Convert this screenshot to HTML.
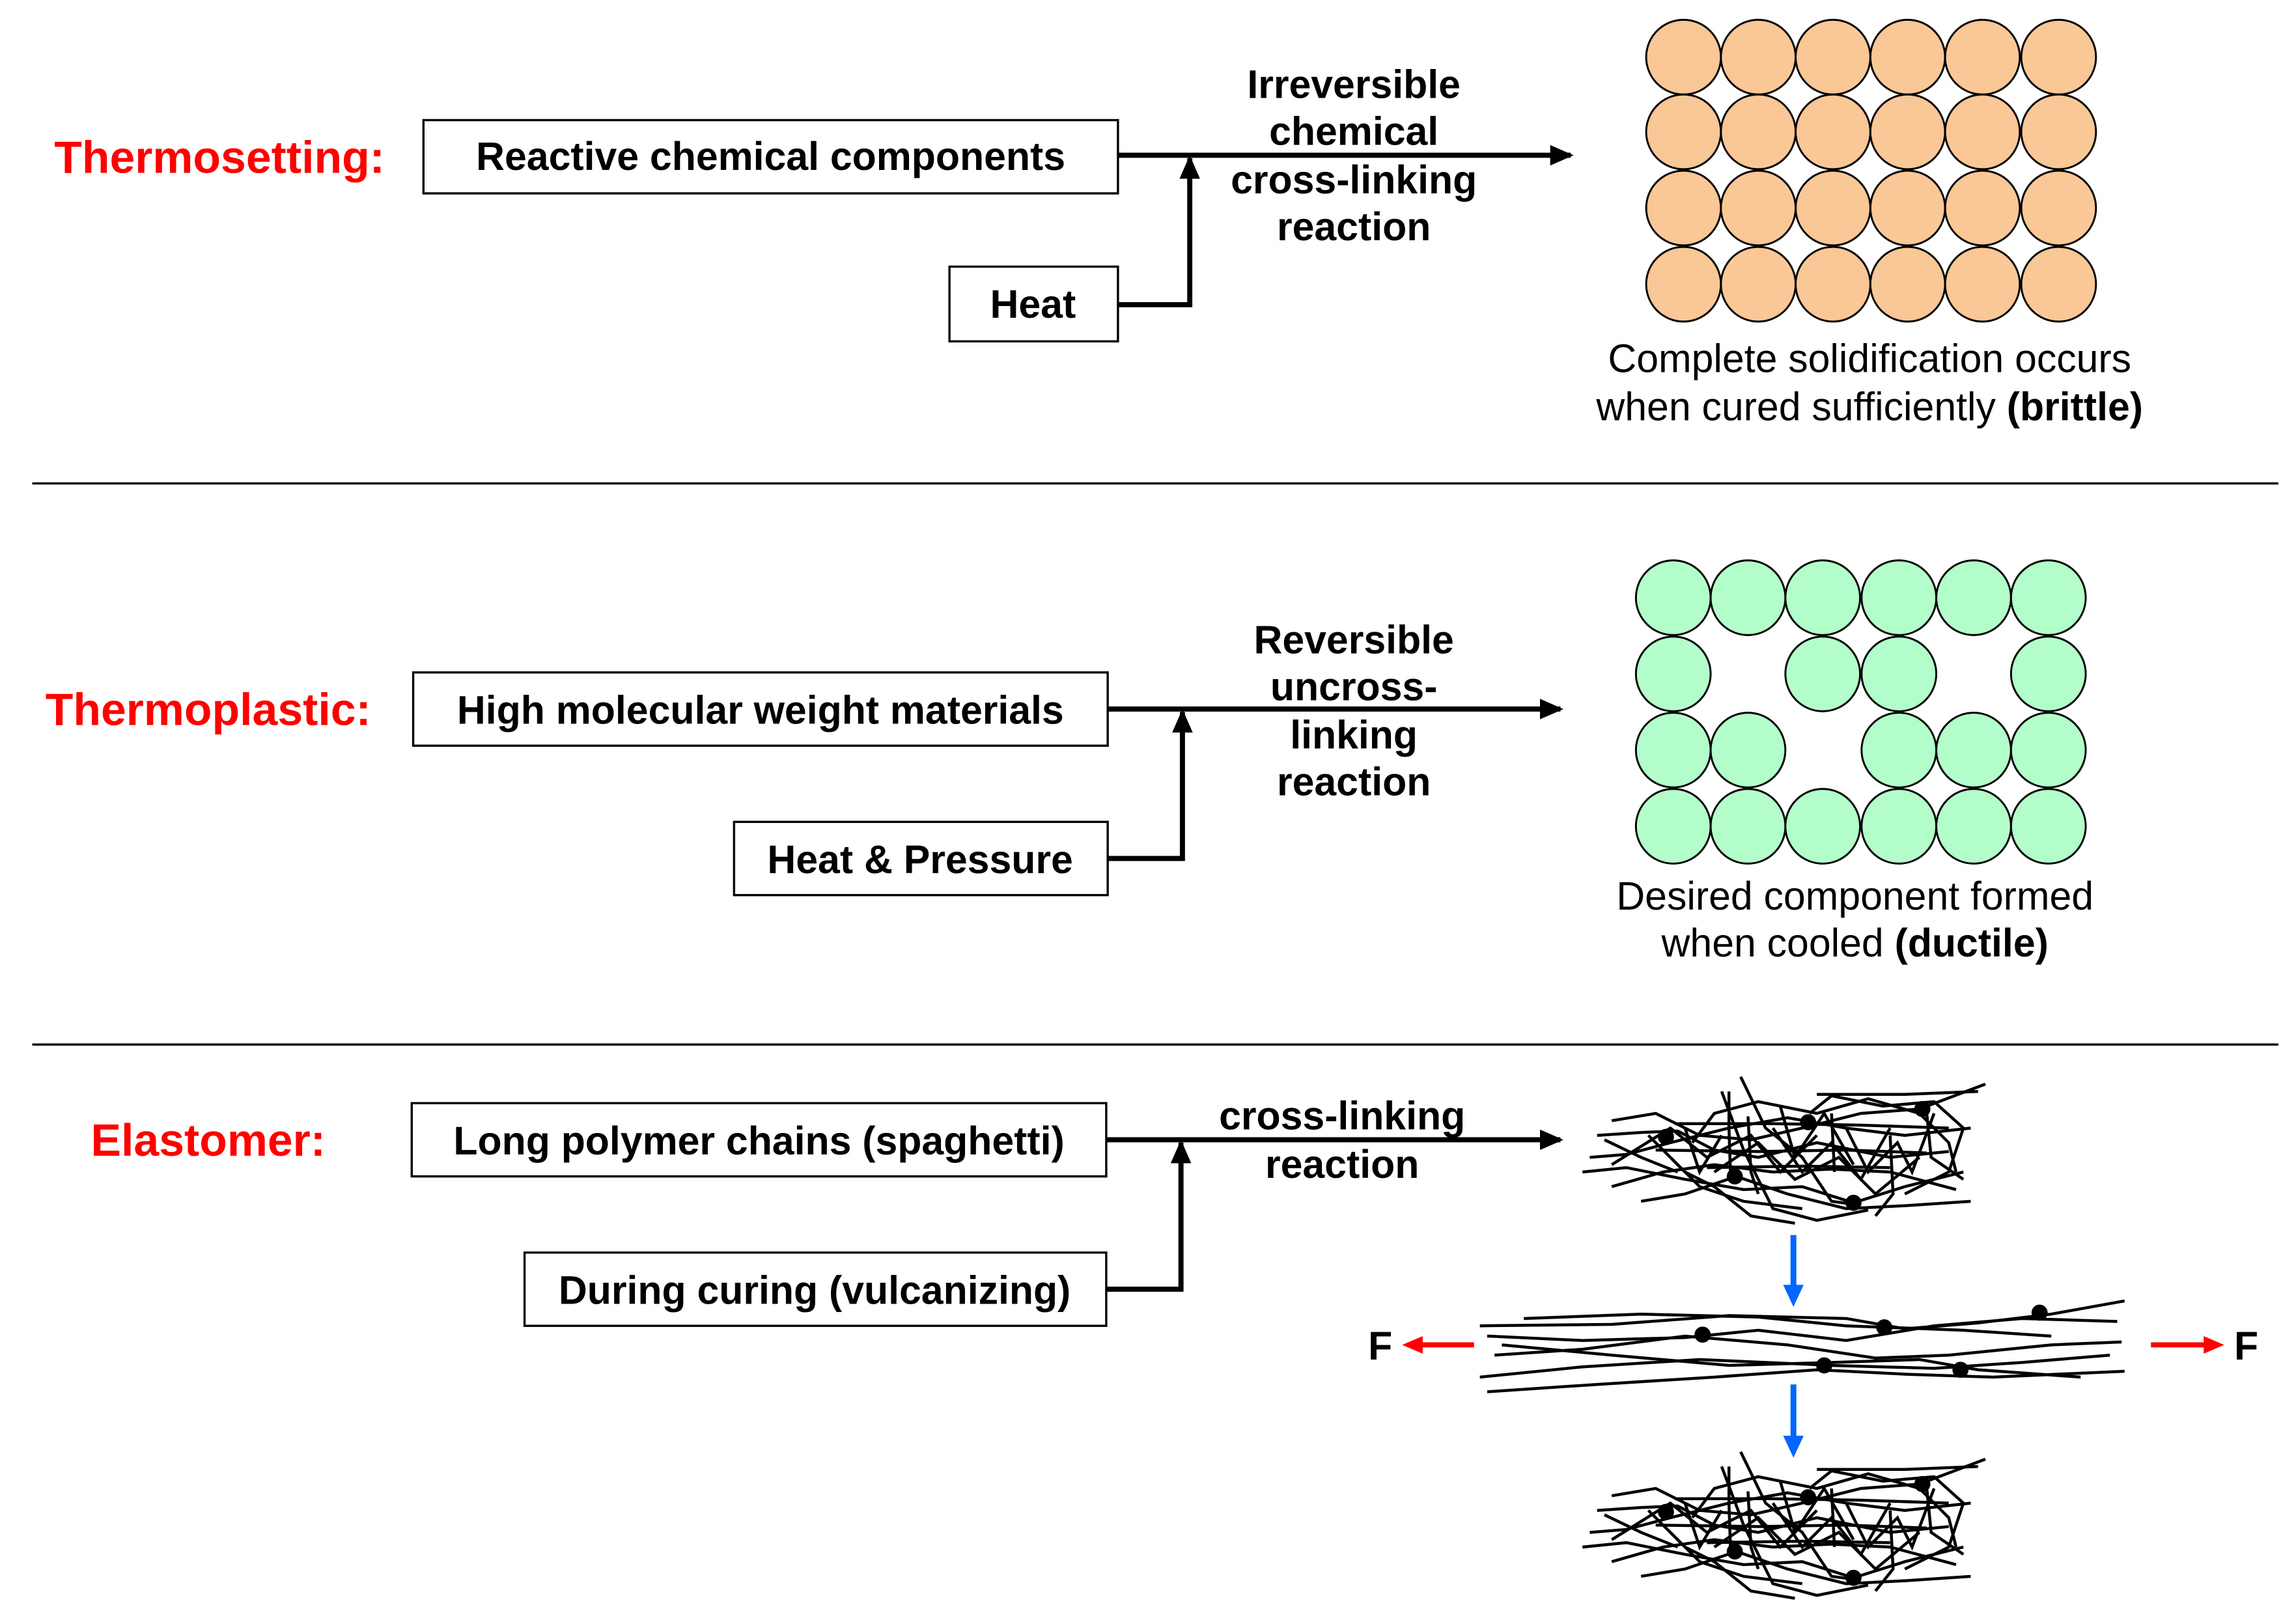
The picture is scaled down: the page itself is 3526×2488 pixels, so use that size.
<!DOCTYPE html>
<html><head><meta charset="utf-8"><style>
html,body{margin:0;padding:0;background:#fff;}
svg{display:block}
text{font-family:"Liberation Sans",Arial,sans-serif;}
.b{font-weight:bold;font-size:27px;fill:#000}
.r{font-weight:bold;font-size:31px;fill:#ff0000}
.n{font-size:27px;fill:#000}
</style></head><body>
<svg width="3526" height="2488" viewBox="0 0 1567 1105.8" preserveAspectRatio="none" xmlns="http://www.w3.org/2000/svg">
<defs>
<marker id="ah" markerWidth="16" markerHeight="14" refX="14" refY="7" orient="auto" markerUnits="userSpaceOnUse" viewBox="0 0 16 14"><path d="M0,0 L16,7 L0,14 z" fill="#000"/></marker>
<g id="blob" fill="none" stroke="#000" stroke-width="2">
<polyline points="1090,775 1120,773 1145,772 1170,785 1200,790 1240,780 1290,790 1330,786"/>
<polyline points="1085,790 1110,788 1140,780 1180,770 1220,763 1260,770 1300,775 1345,770"/>
<polyline points="1100,765 1130,760 1160,775 1195,778 1230,770 1270,760 1310,757 1355,740"/>
<polyline points="1080,800 1110,797 1150,805 1190,812 1230,810 1265,821 1300,810 1340,800"/>
<polyline points="1100,810 1135,800 1170,795 1210,800 1250,798 1290,800 1335,812"/>
<polyline points="1120,820 1150,815 1185,803 1220,815 1260,825 1300,823 1345,820"/>
<polyline points="1175,745 1190,785 1210,825 1240,833 1275,826"/>
<polyline points="1188,735 1205,770 1230,790 1250,820 1265,822"/>
<polyline points="1180,745 1180,770 1181,800"/>
<polyline points="1155,780 1170,760 1200,752 1240,760 1275,750 1310,760 1330,780 1335,800"/>
<polyline points="1235,760 1250,748 1285,755 1320,752 1340,770 1330,800 1300,815"/>
<polyline points="1140,790 1160,810 1190,820 1230,825"/>
<polyline points="1260,770 1275,800 1295,780 1305,800 1320,760"/>
<polyline points="1210,770 1230,800 1250,780 1270,805 1290,770"/>
<polyline points="1100,795 1140,770 1165,790 1195,775 1215,800 1240,775"/>
<polyline points="1170,800 1200,780 1225,805 1255,790 1280,815 1310,790"/>
<polyline points="1215,755 1225,790 1245,760 1265,795"/>
<polyline points="1150,770 1160,800 1175,775"/>
<polyline points="1143,767 1210,767 1270,768 1330,770"/>
<polyline points="1130,785 1200,786 1260,785 1315,787"/>
<polyline points="1165,797 1230,796 1290,797"/>
<polyline points="1240,747 1300,747 1350,745"/>
<polyline points="1193,762 1195,800 1200,815"/>
<polyline points="1250,760 1252,800"/>
<polyline points="1290,775 1292,815 1280,830"/>
<polyline points="1315,760 1318,790 1340,805"/>
<polyline points="1125,775 1150,800 1170,810 1195,830 1225,835"/>
<polyline points="1095,778 1120,790 1145,800"/>
</g>
<g id="dots" fill="#000">
<circle cx="1137" cy="776" r="5.5"/><circle cx="1234" cy="766" r="5.5"/><circle cx="1312" cy="757" r="5.5"/><circle cx="1184" cy="803" r="5.5"/><circle cx="1265" cy="821" r="5.5"/>
</g>
</defs>

<text class="r" x="37" y="118">Thermosetting:</text>
<rect x="289" y="82" width="474" height="50" fill="#fff" stroke="#000" stroke-width="1.5"/>
<text class="b" x="526" y="116" text-anchor="middle">Reactive chemical components</text>
<rect x="648" y="182" width="115" height="51" fill="#fff" stroke="#000" stroke-width="1.5"/>
<text class="b" x="705" y="217" text-anchor="middle">Heat</text>
<line x1="763" y1="106" x2="1072" y2="106" stroke="#000" stroke-width="3.5" marker-end="url(#ah)"/>
<polyline points="763,208 812,208 812,108" fill="none" stroke="#000" stroke-width="3.5" marker-end="url(#ah)"/>
<text class="b" x="924" y="67" text-anchor="middle">Irreversible</text>
<text class="b" x="924" y="99" text-anchor="middle">chemical</text>
<text class="b" x="924" y="132" text-anchor="middle">cross-linking</text>
<text class="b" x="924" y="164" text-anchor="middle">reaction</text>
<g fill="#fac796" stroke="#000" stroke-width="1.3">
<circle cx="1149" cy="39" r="25.5"/><circle cx="1200" cy="39" r="25.5"/><circle cx="1251" cy="39" r="25.5"/><circle cx="1302" cy="39" r="25.5"/><circle cx="1353" cy="39" r="25.5"/><circle cx="1405" cy="39" r="25.5"/>
<circle cx="1149" cy="90" r="25.5"/><circle cx="1200" cy="90" r="25.5"/><circle cx="1251" cy="90" r="25.5"/><circle cx="1302" cy="90" r="25.5"/><circle cx="1353" cy="90" r="25.5"/><circle cx="1405" cy="90" r="25.5"/>
<circle cx="1149" cy="142" r="25.5"/><circle cx="1200" cy="142" r="25.5"/><circle cx="1251" cy="142" r="25.5"/><circle cx="1302" cy="142" r="25.5"/><circle cx="1353" cy="142" r="25.5"/><circle cx="1405" cy="142" r="25.5"/>
<circle cx="1149" cy="194" r="25.5"/><circle cx="1200" cy="194" r="25.5"/><circle cx="1251" cy="194" r="25.5"/><circle cx="1302" cy="194" r="25.5"/><circle cx="1353" cy="194" r="25.5"/><circle cx="1405" cy="194" r="25.5"/>
</g>
<text class="n" x="1276" y="254" text-anchor="middle">Complete solidification occurs</text>
<text class="n" x="1276" y="287" text-anchor="middle">when cured sufficiently <tspan font-weight="bold">(brittle)</tspan></text>

<line x1="22" y1="330" x2="1555" y2="330" stroke="#000" stroke-width="1.5"/>

<text class="r" x="31" y="495">Thermoplastic:</text>
<rect x="282" y="459" width="474" height="50" fill="#fff" stroke="#000" stroke-width="1.5"/>
<text class="b" x="519" y="494" text-anchor="middle">High molecular weight materials</text>
<rect x="501" y="561" width="255" height="50" fill="#fff" stroke="#000" stroke-width="1.5"/>
<text class="b" x="628" y="596" text-anchor="middle">Heat &amp; Pressure</text>
<line x1="756" y1="484" x2="1065" y2="484" stroke="#000" stroke-width="3.5" marker-end="url(#ah)"/>
<polyline points="756,586 807,586 807,486" fill="none" stroke="#000" stroke-width="3.5" marker-end="url(#ah)"/>
<text class="b" x="924" y="446" text-anchor="middle">Reversible</text>
<text class="b" x="924" y="478" text-anchor="middle">uncross-</text>
<text class="b" x="924" y="511" text-anchor="middle">linking</text>
<text class="b" x="924" y="543" text-anchor="middle">reaction</text>
<g fill="#b3fdca" stroke="#000" stroke-width="1.3">
<circle cx="1142" cy="408" r="25.5"/><circle cx="1193" cy="408" r="25.5"/><circle cx="1244" cy="408" r="25.5"/><circle cx="1296" cy="408" r="25.5"/><circle cx="1347" cy="408" r="25.5"/><circle cx="1398" cy="408" r="25.5"/>
<circle cx="1142" cy="460" r="25.5"/><circle cx="1244" cy="460" r="25.5"/><circle cx="1296" cy="460" r="25.5"/><circle cx="1398" cy="460" r="25.5"/>
<circle cx="1142" cy="512" r="25.5"/><circle cx="1193" cy="512" r="25.5"/><circle cx="1296" cy="512" r="25.5"/><circle cx="1347" cy="512" r="25.5"/><circle cx="1398" cy="512" r="25.5"/>
<circle cx="1142" cy="564" r="25.5"/><circle cx="1193" cy="564" r="25.5"/><circle cx="1244" cy="564" r="25.5"/><circle cx="1296" cy="564" r="25.5"/><circle cx="1347" cy="564" r="25.5"/><circle cx="1398" cy="564" r="25.5"/>
</g>
<text class="n" x="1266" y="621" text-anchor="middle">Desired component formed</text>
<text class="n" x="1266" y="653" text-anchor="middle">when cooled <tspan font-weight="bold">(ductile)</tspan></text>

<line x1="22" y1="713" x2="1555" y2="713" stroke="#000" stroke-width="1.5"/>

<text class="r" x="62" y="789">Elastomer:</text>
<rect x="281" y="753" width="474" height="50" fill="#fff" stroke="#000" stroke-width="1.5"/>
<text class="b" x="518" y="788" text-anchor="middle">Long polymer chains (spaghetti)</text>
<rect x="358" y="855" width="397" height="50" fill="#fff" stroke="#000" stroke-width="1.5"/>
<text class="b" x="556" y="890" text-anchor="middle">During curing (vulcanizing)</text>
<line x1="755" y1="778" x2="1065" y2="778" stroke="#000" stroke-width="3.5" marker-end="url(#ah)"/>
<polyline points="755,880 806,880 806,780" fill="none" stroke="#000" stroke-width="3.5" marker-end="url(#ah)"/>
<text class="b" x="916" y="771" text-anchor="middle">cross-linking</text>
<text class="b" x="916" y="804" text-anchor="middle">reaction</text>

<use href="#blob"/><use href="#dots"/>
<g transform="translate(0,256)"><use href="#blob"/><use href="#dots"/></g>

<g fill="none" stroke="#000" stroke-width="2">
<polyline points="1010,905 1100,904 1180,898 1260,900 1300,907 1350,903 1400,897 1450,888"/>
<polyline points="1015,912 1080,915 1150,913 1200,908 1260,915 1320,905 1380,900 1445,902"/>
<polyline points="1020,925 1080,921 1150,912 1220,918 1280,927 1330,925 1400,918 1448,916"/>
<polyline points="1010,940 1080,933 1160,928 1250,932 1320,934 1380,930 1440,925"/>
<polyline points="1015,950 1090,945 1170,940 1240,935 1300,938 1360,940 1450,936"/>
<polyline points="1025,918 1100,925 1180,932 1250,930 1310,928 1350,935 1420,940"/>
<polyline points="1040,900 1120,897 1200,899 1260,905 1340,908 1400,912"/>
</g>
<g fill="#000"><circle cx="1162" cy="911" r="5.5"/><circle cx="1286" cy="906" r="5.5"/><circle cx="1392" cy="896" r="5.5"/><circle cx="1245" cy="932" r="5.5"/><circle cx="1338" cy="935" r="5.5"/></g>

<line x1="1224" y1="843" x2="1224" y2="878" stroke="#0066ff" stroke-width="4"/>
<path d="M1217,877 L1231,877 L1224,892 z" fill="#0066ff"/>
<line x1="1224" y1="945" x2="1224" y2="981" stroke="#0066ff" stroke-width="4"/>
<path d="M1217,980 L1231,980 L1224,995 z" fill="#0066ff"/>
<line x1="1006" y1="918" x2="970" y2="918" stroke="#ff0000" stroke-width="3.5"/>
<path d="M971,912 L971,924 L957,918 z" fill="#ff0000"/>
<text class="b" x="942" y="928" text-anchor="middle" style="font-size:27px">F</text>
<line x1="1468" y1="918" x2="1505" y2="918" stroke="#ff0000" stroke-width="3.5"/>
<path d="M1504,912 L1504,924 L1518,918 z" fill="#ff0000"/>
<text class="b" x="1533" y="928" text-anchor="middle" style="font-size:27px">F</text>
</svg>
</body></html>
